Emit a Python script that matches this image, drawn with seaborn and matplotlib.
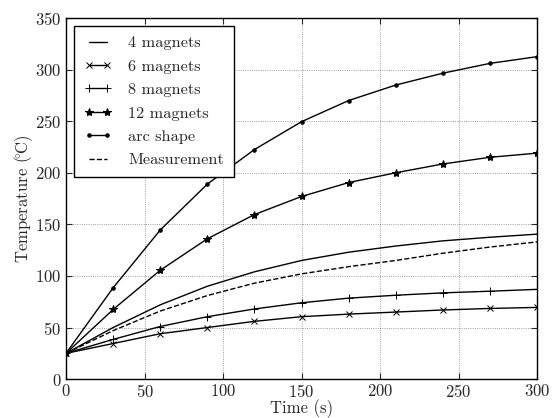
import matplotlib
matplotlib.use("Agg")
import matplotlib.pyplot as plt
import pandas as pd
import seaborn as sns

# data
time_s = [0, 30, 60, 90, 120, 150, 180, 210, 240, 270, 300]
mag4 = [25, 50, 72, 90, 104, 115, 123, 129, 134, 137.5, 140.5]
mag6 = [25, 34.5, 44, 50, 56, 60.5, 63, 65, 67, 68.5, 69.5]
mag8 = [25, 38.5, 51, 60.5, 68, 74, 78.5, 81.3, 83.6, 85.2, 87]
mag12 = [25, 67.5, 105.5, 136, 159.5, 177, 190.5, 200, 208.5, 215, 219]
arc = [25, 88.5, 144.5, 189, 222.5, 249.5, 270, 285, 296.5, 306, 312.5]
measured = [25, 47, 66, 81, 93, 102, 109, 115, 122, 128, 133]

series = [
    ("4 magnets", mag4, dict(marker=None, linestyle="-")),
    ("6 magnets", mag6, dict(marker="x", markersize=5, markeredgewidth=0.7, linestyle="-")),
    ("8 magnets", mag8, dict(marker="+", markersize=6, markeredgewidth=0.7, linestyle="-")),
    ("12 magnets", mag12, dict(marker="*", markersize=6, linestyle="-")),
    ("arc shape", arc, dict(marker=".", markersize=5, linestyle="-")),
    ("Measurement", measured, dict(marker=None, linestyle="--")),
]

sns.set_style("ticks")
plt.rcParams.update({
    "font.family": "serif",
    "font.serif": ["cmr10"],
    "mathtext.fontset": "cm",
    "axes.formatter.use_mathtext": True,
    "font.size": 12,
    "xtick.direction": "in",
    "ytick.direction": "in",
    "xtick.top": True,
    "ytick.right": True,
    "xtick.major.size": 4,
    "ytick.major.size": 4,
    "xtick.major.pad": 3,
    "axes.edgecolor": "black",
    "axes.linewidth": 1.0,
})

fig = plt.figure(figsize=(5.52, 4.18), dpi=100)
ax = fig.add_axes([0.1196, 0.093, 0.8534, 0.864])

for name, values, style in series:
    df = pd.DataFrame({"t": time_s, "T": values})
    sns.lineplot(data=df, x="t", y="T", ax=ax, color="black", linewidth=1.0,
                 markerfacecolor="black", markeredgecolor="black",
                 label=name, **style)

ax.set_xlim(0, 300)
ax.set_ylim(0, 350)
ax.set_xticks(range(0, 301, 50))
ax.set_yticks(range(0, 351, 50))
ax.grid(True, linestyle=":", color="black", linewidth=0.6, alpha=0.5)
ax.set_xlabel("Time (s)", labelpad=-0.5)
ax.set_ylabel(r"Temperature ($\!^{\circ}\!$C)", labelpad=0)

leg = ax.legend(loc="upper left", numpoints=2, handlelength=1.7, handletextpad=1.0,
                fancybox=False, framealpha=1, edgecolor="black", borderpad=0.6,
                labelspacing=0.55, fontsize=11.75)
leg.get_frame().set_linewidth(1.0)

fig.savefig("out.png", dpi=100)
